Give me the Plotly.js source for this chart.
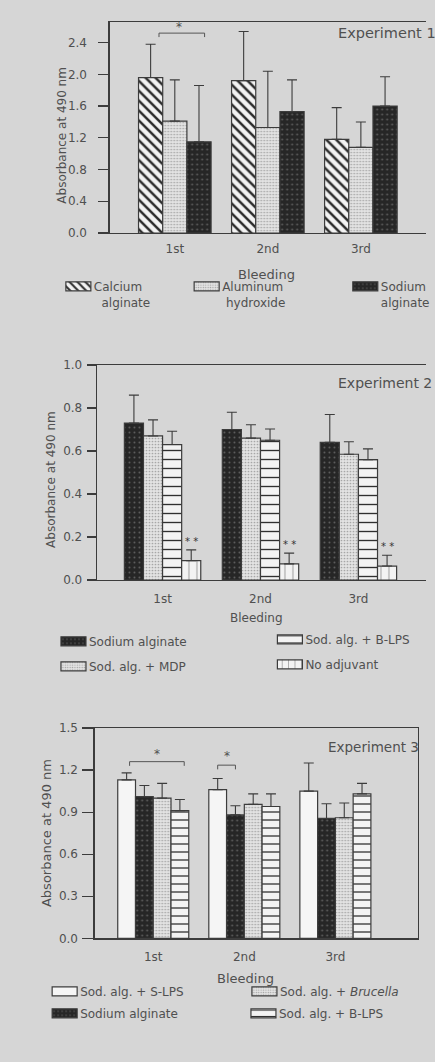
<!DOCTYPE html>
<html><head><meta charset="utf-8">
<script src="https://cdn.plot.ly/plotly-3.0.1.min.js"></script>
<style>html,body{margin:0;padding:0;background:#d6d6d6;overflow:hidden}</style>
</head><body><div id="chart" style="width:435px;height:1062px"></div>
<script>
// ---------- data ----------
const bleedings = ['1st', '2nd', '3rd'];
const yTicks1 = [0, 0.4, 0.8, 1.2, 1.6, 2.0, 2.4];
const yTicks2 = [0, 0.2, 0.4, 0.6, 0.8, 1.0];
const yTicks3 = [0, 0.3, 0.6, 0.9, 1.2, 1.5];

// Experiment 1
const exp1Calcium = [1.96, 1.92, 1.18];
const exp1CalciumErr = [0.42, 0.62, 0.40];
const exp1Aluminum = [1.41, 1.33, 1.08];
const exp1AluminumErr = [0.52, 0.71, 0.32];
const exp1Sodium = [1.15, 1.53, 1.60];
const exp1SodiumErr = [0.71, 0.40, 0.37];

// Experiment 2
const exp2Sodium = [0.73, 0.70, 0.64];
const exp2SodiumErr = [0.13, 0.08, 0.13];
const exp2Mdp = [0.67, 0.66, 0.585];
const exp2MdpErr = [0.075, 0.062, 0.058];
const exp2Blps = [0.63, 0.65, 0.56];
const exp2BlpsErr = [0.062, 0.052, 0.05];
const exp2None = [0.09, 0.075, 0.065];
const exp2NoneErr = [0.05, 0.05, 0.05];

// Experiment 3
const exp3Slps = [1.13, 1.06, 1.05];
const exp3SlpsErr = [0.05, 0.08, 0.20];
const exp3Sodium = [1.01, 0.88, 0.855];
const exp3SodiumErr = [0.08, 0.065, 0.105];
const exp3Brucella = [1.00, 0.955, 0.86];
const exp3BrucellaErr = [0.105, 0.075, 0.105];
const exp3Blps = [0.91, 0.94, 1.03];
const exp3BlpsErr = [0.08, 0.09, 0.075];

// ---------- styles ----------
const W = 435, H = 1062;
const px = v => v / W;
const py = v => 1 - v / H;
const FONT = 'DejaVu Sans, Verdana, sans-serif';
const TXT = '#505050';
const LINE = '#3c3c3c';

const STY = {
  calcium:  {color: '#f3f3f3', pattern: {shape: '\\', fgcolor: '#2a2a2a', bgcolor: '#f3f3f3', size: 7, solidity: 0.35}},
  aluminum: {color: '#e3e3e3', pattern: {shape: '.', fgcolor: '#a5a5a5', bgcolor: '#e3e3e3', size: 3, solidity: 0.25}},
  sodium:   {color: '#262626', pattern: {shape: '.', fgcolor: '#5e5e5e', bgcolor: '#262626', size: 5, solidity: 0.12}},
  mdp:      {color: '#e3e3e3', pattern: {shape: '.', fgcolor: '#a5a5a5', bgcolor: '#e3e3e3', size: 3, solidity: 0.25}},
  blps2:    {color: '#f3f3f3', pattern: {shape: '-', fgcolor: '#303030', bgcolor: '#f3f3f3', size: 9, solidity: 0.15}},
  blps3:    {color: '#f3f3f3', pattern: {shape: '-', fgcolor: '#303030', bgcolor: '#f3f3f3', size: 8, solidity: 0.16}},
  none:     {color: '#f3f3f3', pattern: {shape: '|', fgcolor: '#9a9a9a', bgcolor: '#f3f3f3', size: 8, solidity: 0.12}},
  slps:     {color: '#f5f5f5'},
  brucella: {color: '#e3e3e3', pattern: {shape: '.', fgcolor: '#a5a5a5', bgcolor: '#e3e3e3', size: 3, solidity: 0.25}}
};

function bar(name, y, err, n, sty, legendId) {
  const marker = {color: sty.color, line: {color: LINE, width: 1.2}};
  if (sty.pattern) marker.pattern = sty.pattern;
  return {
    type: 'bar', name: name, x: bleedings, y: y,
    xaxis: 'x' + (n === 1 ? '' : n), yaxis: 'y' + (n === 1 ? '' : n),
    marker: marker, legend: legendId, showlegend: true,
    error_y: {type: 'data', symmetric: false, array: err, arrayminus: err.map(() => 0),
              color: LINE, thickness: 1.1, width: 5}
  };
}

const traces = [
  bar('Calcium<br>\u00a0\u00a0alginate', exp1Calcium, exp1CalciumErr, 1, STY.calcium, 'legend'),
  bar('Aluminum<br>\u00a0hydroxide', exp1Aluminum, exp1AluminumErr, 1, STY.aluminum, 'legend2'),
  bar('Sodium<br>alginate', exp1Sodium, exp1SodiumErr, 1, STY.sodium, 'legend3'),

  bar('Sodium alginate', exp2Sodium, exp2SodiumErr, 2, STY.sodium, 'legend4'),
  bar('Sod. alg. + MDP', exp2Mdp, exp2MdpErr, 2, STY.mdp, 'legend5'),
  bar('Sod. alg. + B-LPS', exp2Blps, exp2BlpsErr, 2, STY.blps2, 'legend6'),
  bar('No adjuvant', exp2None, exp2NoneErr, 2, STY.none, 'legend7'),

  bar('Sod. alg. + S-LPS', exp3Slps, exp3SlpsErr, 3, STY.slps, 'legend8'),
  bar('Sodium alginate', exp3Sodium, exp3SodiumErr, 3, STY.sodium, 'legend9'),
  bar('Sod. alg. + <i>Brucella</i>', exp3Brucella, exp3BrucellaErr, 3, STY.brucella, 'legend10'),
  bar('Sod. alg. + B-LPS', exp3Blps, exp3BlpsErr, 3, STY.blps3, 'legend11')
];

// ---------- axes ----------
function xAx(domain, range, standoff) {
  return {domain: domain, range: range, type: 'category', showline: true, mirror: true,
    linecolor: LINE, linewidth: 1.3, ticks: '', showgrid: false, zeroline: false,
    ticklabelstandoff: standoff, tickfont: {family: FONT, size: 12, color: TXT}, fixedrange: true};
}
function yAx(domain, range, tickvals, ticklen, standoff, mirror) {
  return {domain: domain, range: range, tickvals: tickvals, tickformat: '.1f',
    showline: true, mirror: mirror, linecolor: LINE, linewidth: 1.3,
    ticks: 'outside', ticklen: ticklen, tickcolor: LINE, tickwidth: 1.2,
    showgrid: false, zeroline: false, ticklabelstandoff: standoff,
    tickfont: {family: FONT, size: 12, color: TXT}, fixedrange: true};
}

const layout = {
  width: W, height: H, margin: {l: 0, r: 0, t: 0, b: 0},
  paper_bgcolor: '#d6d6d6', plot_bgcolor: '#d6d6d6',
  barmode: 'group', bargap: 0.22, bargroupgap: 0,
  font: {family: FONT, color: TXT},
  xaxis:  xAx([px(112), 1], [-0.7, 2.7], 4),
  yaxis:  yAx([py(233), py(22)], [0, 2.66], yTicks1, 10, 9, false),
  xaxis2: xAx([px(99), 1], [-0.67, 2.69], 7),
  yaxis2: yAx([py(580), py(365)], [0, 1.0], yTicks2, 9, 2, false),
  xaxis3: xAx([px(96.7), px(427)], [-0.643, 2.909], 7),
  yaxis3: yAx([py(938.3), py(728)], [0, 1.5], yTicks3, 11, 2, true),
  shapes: [], annotations: []
};
layout.xaxis2.anchor = 'y2'; layout.yaxis2.anchor = 'x2';
layout.xaxis3.anchor = 'y3'; layout.yaxis3.anchor = 'x3';

// significance brackets
function bracket(n, x0, x1, y, drop) {
  const xr = 'x' + (n === 1 ? '' : n), yr = 'y' + (n === 1 ? '' : n);
  const ln = {color: '#555', width: 1};
  layout.shapes.push({type: 'line', xref: xr, yref: yr, x0: x0, x1: x1, y0: y, y1: y, line: ln});
  layout.shapes.push({type: 'line', xref: xr, yref: yr, x0: x0, x1: x0, y0: y, y1: y - drop, line: ln});
  layout.shapes.push({type: 'line', xref: xr, yref: yr, x0: x1, x1: x1, y0: y, y1: y - drop, line: ln});
}
bracket(1, -0.17, 0.32, 2.52, 0.05);
bracket(3, -0.26, 0.34, 1.26, 0.03);
bracket(3, 0.7075, 0.9025, 1.235, 0.03);

function ann(o) {
  layout.annotations.push(Object.assign({showarrow: false, xanchor: 'center', yanchor: 'middle',
    font: {family: FONT, size: 12, color: TXT}}, o));
}
ann({xref: 'x', yref: 'y', x: 0.04, y: 2.60, text: '*'});
ann({xref: 'x3', yref: 'y3', x: 0.045, y: 1.315, text: '*'});
ann({xref: 'x3', yref: 'y3', x: 0.81, y: 1.30, text: '*'});
exp2None.forEach((v, i) => ann({xref: 'x2', yref: 'y2', x: i + 0.2925, y: v + exp2NoneErr[i] + 0.04,
  text: '* *', font: {family: FONT, size: 10, color: '#333'}}));

// panel labels
ann({xref: 'paper', yref: 'paper', x: px(343), y: py(33), xanchor: 'left', text: 'Experiment 1', font: {family: FONT, size: 14.5, color: TXT}});
ann({xref: 'paper', yref: 'paper', x: px(343), y: py(383), xanchor: 'left', text: 'Experiment 2', font: {family: FONT, size: 14, color: TXT}});
ann({xref: 'paper', yref: 'paper', x: px(333), y: py(747), xanchor: 'left', text: 'Experiment 3', font: {family: FONT, size: 13.5, color: TXT}});

// axis titles
ann({xref: 'paper', yref: 'paper', x: px(63), y: py(135), textangle: -90, text: 'Absorbance at 490 nm'});
ann({xref: 'paper', yref: 'paper', x: px(52), y: py(479), textangle: -90, text: 'Absorbance at 490 nm'});
ann({xref: 'paper', yref: 'paper', x: px(47), y: py(833), textangle: -90, text: 'Absorbance at 490 nm', font: {family: FONT, size: 13, color: TXT}});
ann({xref: 'paper', yref: 'paper', x: px(272), y: py(274), text: 'Bleeding', font: {family: FONT, size: 13, color: TXT}});
ann({xref: 'paper', yref: 'paper', x: px(262), y: py(618), text: 'Bleeding'});
ann({xref: 'paper', yref: 'paper', x: px(251), y: py(978), text: 'Bleeding', font: {family: FONT, size: 13, color: TXT}});

// legends: one per item, [id, swatch left px, first-line centre px]
const legendPos = [
  ['legend', 67, 287], ['legend2', 198, 287], ['legend3', 360, 287],
  ['legend4', 62, 642], ['legend5', 62, 667], ['legend6', 283, 640], ['legend7', 283, 665],
  ['legend8', 53, 992], ['legend10', 257, 992], ['legend9', 53, 1014], ['legend11', 256, 1014]
];
legendPos.forEach(([id, sx, cy]) => {
  layout[id] = {x: px(sx - 12), y: py(cy - 15), xanchor: 'left', yanchor: 'top', valign: 'top',
    bgcolor: 'rgba(0,0,0,0)', borderwidth: 0, itemwidth: 30,
    font: {family: FONT, size: 12, color: TXT}, itemclick: false, itemdoubleclick: false};
});

Plotly.newPlot('chart', traces, layout, {staticPlot: true, displayModeBar: false}).then(() => {
  document.querySelectorAll('g.legendpoints path.legendbar, g.legendpoints path.legendundefined').forEach(p => {
    p.setAttribute('d', 'M-8,-4.5H17V4.5H-8Z');
  });
});
</script>
</body></html>
